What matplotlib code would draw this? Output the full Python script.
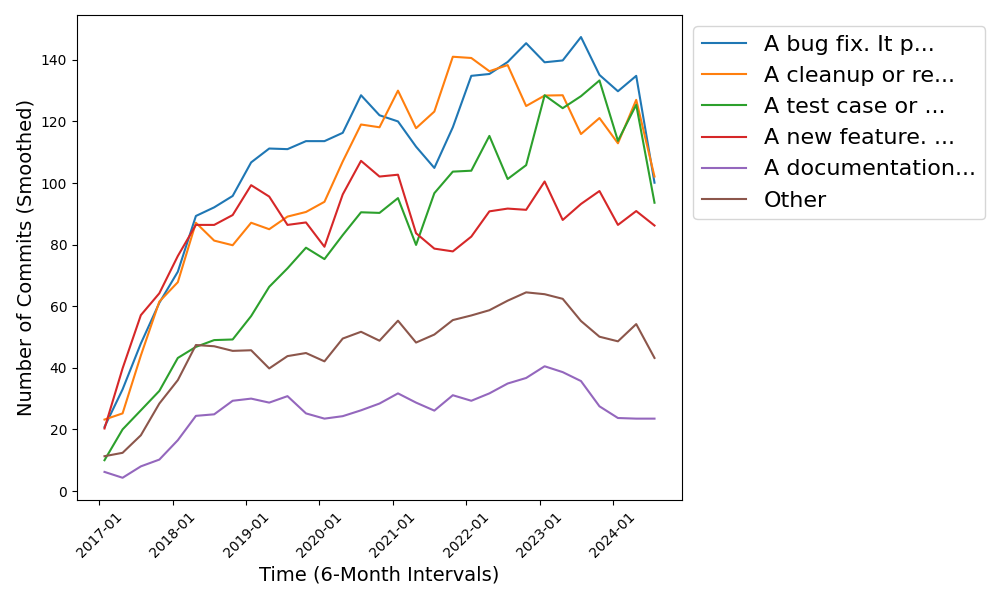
import matplotlib
matplotlib.use("Agg")
import matplotlib.pyplot as plt
import matplotlib.dates as mdates
import pandas as pd

dates = pd.date_range(start="2017-01-26", periods=31, freq=pd.DateOffset(months=3))

labels = ["A bug fix. It p...", "A cleanup or re...", "A test case or ...",
          "A new feature. ...", "A documentation...", "Other"]

bug_fix = [20.8, 33.0, 47.9, 61.1, 71.2, 89.3, 92.1, 95.8, 106.7, 111.2, 111.0,
           113.6, 113.6, 116.3, 128.5, 122.0, 120.0, 111.8, 104.9, 118.1, 134.8,
           135.4, 139.3, 145.4, 139.2, 139.8, 147.4, 135.1, 129.8, 134.8, 100.1]
cleanup = [23.2, 25.2, 44.0, 61.5, 67.8, 87.1, 81.3, 79.8, 87.1, 85.0, 89.1,
           90.6, 93.9, 107.0, 119.0, 118.1, 130.0, 117.8, 123.2, 141.0, 140.6,
           136.3, 138.3, 125.0, 128.4, 128.5, 115.9, 121.1, 112.9, 127.0, 102.1]
test_case = [10.0, 20.0, 26.2, 32.5, 43.2, 46.8, 49.0, 49.2, 56.8, 66.3, 72.3,
             79.0, 75.3, 83.1, 90.5, 90.3, 95.1, 79.9, 96.7, 103.7, 104.0,
             115.3, 101.3, 105.8, 128.5, 124.3, 128.2, 133.3, 113.7, 125.4, 93.6]
new_feature = [20.3, 39.8, 57.1, 64.2, 76.3, 86.4, 86.4, 89.6, 99.3, 95.6, 86.4,
               87.2, 79.3, 96.3, 107.2, 102.1, 102.7, 83.7, 78.7, 77.8, 82.6,
               90.8, 91.7, 91.3, 100.5, 88.0, 93.2, 97.4, 86.4, 90.9, 86.2]
documentation = [6.2, 4.3, 8.0, 10.2, 16.5, 24.4, 24.9, 29.3, 30.0, 28.7, 30.8,
                 25.2, 23.5, 24.3, 26.2, 28.4, 31.7, 28.7, 26.1, 31.1, 29.3,
                 31.7, 34.9, 36.7, 40.5, 38.6, 35.7, 27.5, 23.7, 23.5, 23.5]
other = [11.3, 12.4, 18.1, 28.4, 36.0, 47.4, 47.0, 45.5, 45.7, 39.8, 43.8,
         44.8, 42.1, 49.5, 51.7, 48.8, 55.3, 48.2, 50.8, 55.5, 57.0,
         58.7, 61.8, 64.5, 63.9, 62.4, 55.2, 50.1, 48.6, 54.2, 43.2]

series = [bug_fix, cleanup, test_case, new_feature, documentation, other]

fig, ax = plt.subplots(figsize=(10, 6), dpi=100)
for lab, vals in zip(labels, series):
    ax.plot(dates, vals, label=lab, linewidth=1.5)

ax.xaxis.set_major_locator(mdates.YearLocator())
ax.xaxis.set_major_formatter(mdates.DateFormatter("%Y-%m"))
plt.setp(ax.get_xticklabels(), rotation=45)
ax.set_xlabel("Time (6-Month Intervals)", fontsize=14)
ax.set_ylabel("Number of Commits (Smoothed)", fontsize=14)
ax.legend(loc="upper left", bbox_to_anchor=(1, 1), fontsize=16)

fig.subplots_adjust(left=0.077, right=0.682, top=0.975, bottom=0.167)
fig.savefig("out.png", dpi=100)
